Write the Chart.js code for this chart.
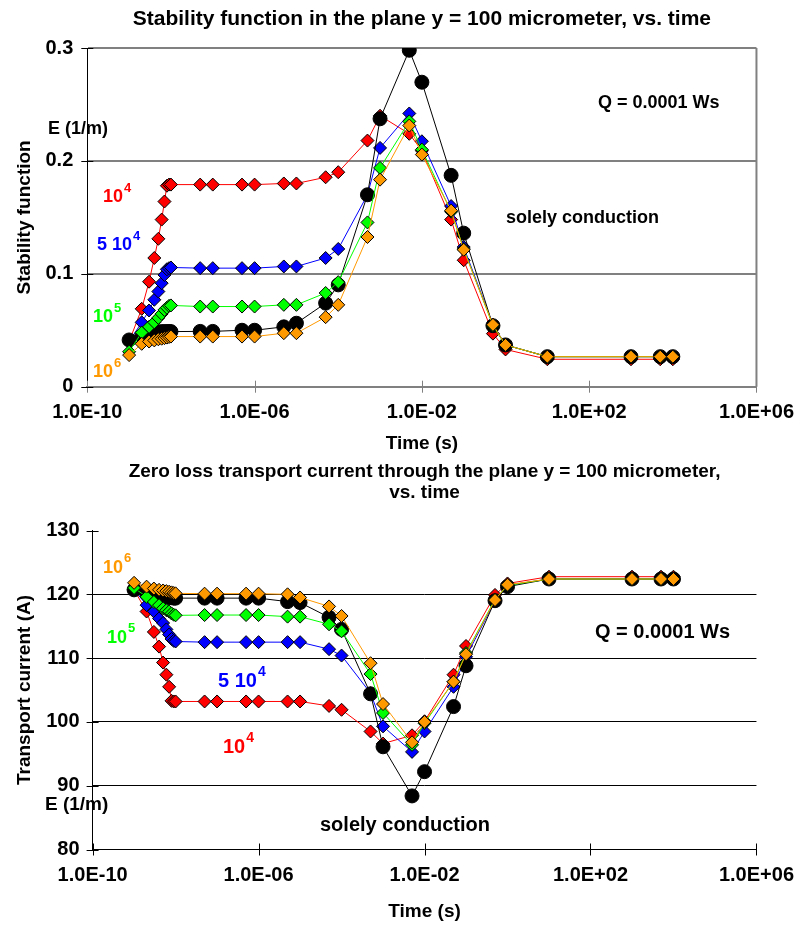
<!DOCTYPE html>
<html><head><meta charset="utf-8">
<script src="https://cdn.jsdelivr.net/npm/chart.js@4/dist/chart.umd.min.js"></script>
<style>
html,body{margin:0;padding:0;background:#fff;}
#wrap{position:relative;width:808px;height:927px;overflow:hidden;}
canvas{position:absolute;left:0;}
</style></head><body>
<div id="wrap">
<canvas id="c1" width="808" height="455" style="top:0;width:808px;height:455px"></canvas>
<canvas id="c2" width="808" height="472" style="top:455px;width:808px;height:472px"></canvas>
</div>
<script>
// ---------- data ----------
const times = [1e-9,2e-9,3e-9,4e-9,5e-9,6e-9,7e-9,8e-9,9e-9,1e-8,5e-8,1e-7,5e-7,1e-6,5e-6,1e-5,5e-5,1e-4,5e-4,1e-3,5e-3,1e-2,5e-2,1e-1,0.5,1,10,1000,5000,10000];
const xTickValues = [1e-10,1e-6,1e-2,1e2,1e6];
const xTickLabels = ["1.0E-10","1.0E-06","1.0E-02","1.0E+02","1.0E+06"];
const stabTickValues = [0,0.1,0.2,0.3];
const stabTickLabels = ["0","0.1","0.2","0.3"];
const currTickValues = [80,90,100,110,120,130];
const currTickLabels = ["80","90","100","110","120","130"];

// Stability function
const stabE1e4  = [0.040,0.069,0.093,0.114,0.131,0.148,0.164,0.178,0.179,0.179,0.179,0.179,0.179,0.179,0.180,0.180,0.1855,0.190,0.218,0.240,0.224,0.209,0.148,0.112,0.047,0.033,0.0243,0.0243,0.0243,0.0243];
const stabE5e4  = [0.040,0.057,0.0675,0.077,0.0843,0.0917,0.099,0.104,0.105,0.1056,0.105,0.105,0.105,0.105,0.1065,0.1065,0.114,0.122,0.170,0.2115,0.242,0.2174,0.160,0.1237,0.055,0.037,0.0266,0.0266,0.0266,0.0266];
const stabE1e5  = [0.031,0.048,0.053,0.057,0.061,0.0645,0.068,0.070,0.0716,0.072,0.071,0.071,0.071,0.071,0.0725,0.0725,0.083,0.0926,0.1455,0.1938,0.235,0.210,0.155,0.122,0.054,0.037,0.0266,0.0266,0.0266,0.0266];
const stabE1e6  = [0.028,0.038,0.040,0.041,0.042,0.0425,0.043,0.0435,0.044,0.0444,0.0444,0.0444,0.0444,0.0444,0.0474,0.0474,0.0616,0.0725,0.1326,0.1834,0.2313,0.2056,0.156,0.1213,0.0548,0.037,0.0266,0.0266,0.0266,0.0266];
const stabCond  = [0.0414,0.045,0.047,0.048,0.0485,0.0488,0.0488,0.0488,0.0488,0.0488,0.049,0.049,0.050,0.050,0.053,0.0562,0.074,0.0902,0.170,0.2373,0.298,0.2697,0.1872,0.136,0.054,0.037,0.0266,0.0266,0.0266,0.0266];

// Zero loss transport current (A)
const currE1e4  = [120.7,117.3,114.1,111.8,109.3,107.4,105.5,103.3,103.2,103.2,103.2,103.2,103.2,103.2,103.2,103.2,102.5,101.9,98.5,96.6,97.9,100.1,107.4,111.9,119.9,121.7,122.76,122.76,122.76,122.76];
const currE5e4  = [120.7,118.3,117.3,116.2,115.5,114.5,113.7,113.0,112.7,112.6,112.5,112.5,112.5,112.5,112.5,112.5,111.4,110.4,104.5,99.3,95.3,98.5,105.5,110.2,119.0,121.4,122.4,122.4,122.4,122.4];
const currE1e5  = [121.0,119.6,118.8,118.3,117.8,117.5,117.3,117.0,116.8,116.7,116.75,116.75,116.75,116.75,116.5,116.5,115.3,114.2,107.5,101.4,96.4,99.8,106.3,110.8,119.2,121.4,122.4,122.4,122.4,122.4];
const currE1e6  = [121.8,121.2,120.9,120.7,120.6,120.5,120.4,120.3,120.2,120.15,120.1,120.1,120.1,120.1,120.0,119.5,118.1,116.6,109.2,102.8,96.8,100.0,106.3,110.6,119.1,121.5,122.4,122.4,122.4,122.4];
const currCond  = [120.7,120.2,120.0,119.8,119.7,119.6,119.5,119.5,119.4,119.4,119.4,119.4,119.4,119.4,118.85,118.7,116.4,114.5,104.4,96.1,88.4,92.2,102.4,108.8,119.0,121.2,122.4,122.4,122.4,122.4];

// ---------- helpers ----------
const FONT = '"Liberation Sans", Arial, Helvetica, sans-serif';
const pts = arr => times.map((t,i)=>({x:t,y:arr[i]}));
function diamondSet(label, arr, color, order){
  return {label, data: pts(arr), showLine:true, borderColor:color, borderWidth:1,
    pointStyle:'rectRot', pointRadius:6.5, pointBackgroundColor:color, pointBorderColor:'#000',
    pointBorderWidth:1, order};
}
function circleSet(label, arr, order){
  return {label, data: pts(arr), showLine:true, borderColor:'#000', borderWidth:1,
    pointStyle:'circle', pointRadius:7, pointBackgroundColor:'#000', pointBorderColor:'#000',
    pointBorderWidth:1, order};
}

const textPlugin = {
  id:'texts',
  afterDraw(chart, args, opts){
    const ctx = chart.ctx, off = opts.offsetY||0, ca = chart.chartArea;
    (opts.items||[]).forEach(it=>{
      ctx.save();
      ctx.fillStyle = it.color||'#000';
      ctx.font = `bold ${it.size}px ${FONT}`;
      if (it.rotate){
        const cy = it.y==='center' ? (ca.top+ca.bottom)/2 : it.y-off;
        ctx.translate(it.x, cy); ctx.rotate(-Math.PI/2);
        ctx.textAlign='center'; ctx.textBaseline='middle';
        ctx.fillText(it.text,0,0);
      } else {
        ctx.textBaseline='alphabetic';
        let x = it.x==='center' ? (ca.left+ca.right)/2 : it.x;
        ctx.textAlign = it.align||'left';
        ctx.fillText(it.text, x, it.y-off);
        if (it.sup){
          const w = ctx.measureText(it.text).width;
          ctx.font = `bold ${it.supSize||13}px ${FONT}`;
          ctx.fillText(it.sup, x+w+1, it.y-off-it.supRaise);
        }
      }
      ctx.restore();
    });
  }
};

const framePlugin = {
  id:'frame',
  beforeDatasetsDraw(chart, args, opts){
    const ctx = chart.ctx, ca = chart.chartArea;
    const xs = chart.scales.x, ys = chart.scales.y;
    ctx.save();
    if (opts.rightBorder){
      ctx.strokeStyle = opts.rightBorder; ctx.lineWidth = 2;
      ctx.beginPath(); ctx.moveTo(ca.right, ca.top); ctx.lineTo(ca.right, ca.bottom); ctx.stroke();
    }
    ctx.lineWidth = 1;
    ctx.strokeStyle = opts.xTickColor;
    xTickValues.forEach(v=>{
      const px = Math.round(xs.getPixelForValue(v))+0.5;
      ctx.beginPath(); ctx.moveTo(px, ca.bottom-6); ctx.lineTo(px, ca.bottom+6); ctx.stroke();
    });
    ctx.strokeStyle = opts.yTickColor;
    ys.ticks.forEach(t=>{
      const py = Math.round(ys.getPixelForValue(t.value))+0.5;
      ctx.beginPath(); ctx.moveTo(ca.left-6, py); ctx.lineTo(ca.left+6, py); ctx.stroke();
    });
    ctx.restore();
  }
};

function xAxis(height){
  return {type:'logarithmic', min:1e-10, max:1e6,
    afterBuildTicks: s => { s.ticks = xTickValues.map(v=>({value:v})); },
    afterFit: s => { s.height = height; },
    grid:{display:false, drawTicks:false},
    ticks:{autoSkip:false, maxRotation:0, padding:14, color:'#000',
      font:{family:FONT, size:20, weight:'bold'},
      callback:(v,i)=>xTickLabels[i]}
  };
}

// ---------- top chart ----------
new Chart(document.getElementById('c1'), {
  type:'scatter',
  data:{datasets:[
    diamondSet('10^4', stabE1e4, '#FF0000', 5),
    diamondSet('5 10^4', stabE5e4, '#0000FF', 4),
    circleSet('solely conduction', stabCond, 3),
    diamondSet('10^5', stabE1e5, '#00FF00', 2),
    diamondSet('10^6', stabE1e6, '#FF9900', 1)
  ]},
  options:{
    responsive:false, animation:false, events:[],
    layout:{padding:{left:0, top:48, right:50.7, bottom:0}},
    scales:{
      x: Object.assign(xAxis(68.3), {border:{display:true, color:'#808080', width:2}}),
      y:{min:0, max:0.3,
        afterFit: s => { s.width = 87.3; },
        afterBuildTicks: s => { s.ticks = stabTickValues.map(v=>({value:v})); },
        border:{display:true, color:'#000', width:1},
        grid:{color:'#808080', lineWidth:2, drawTicks:false},
        ticks:{padding:14, color:'#000', font:{family:FONT, size:20, weight:'bold'},
          callback:(v,i)=>stabTickLabels[i]}
      }
    },
    plugins:{
      legend:{display:false}, tooltip:{enabled:false}, title:{display:false},
      frame:{rightBorder:'#808080', xTickColor:'#808080', yTickColor:'#000'},
      texts:{offsetY:0, items:[
        {text:'Stability function in the plane y = 100 micrometer, vs. time', x:'center', y:25, size:21, align:'center'},
        {text:'Stability function', x:25, y:'center', size:19, rotate:true},
        {text:'Time (s)', x:'center', y:449, size:19, align:'center'},
        {text:'Q = 0.0001 Ws', x:598, y:108, size:18},
        {text:'E (1/m)', x:48, y:134, size:18},
        {text:'10', sup:'4', x:103, y:202, supRaise:10, size:18, color:'#FF0000'},
        {text:'5 10', sup:'4', x:97, y:250, supRaise:10, size:18, color:'#0000FF'},
        {text:'10', sup:'5', x:93, y:322, supRaise:10, size:18, color:'#00FF00'},
        {text:'10', sup:'6', x:93, y:377, supRaise:10, size:18, color:'#FF9900'},
        {text:'solely conduction', x:506, y:223, size:18}
      ]}
    }
  },
  plugins:[framePlugin, textPlugin]
});

// ---------- bottom chart ----------
new Chart(document.getElementById('c2'), {
  type:'scatter',
  data:{datasets:[
    diamondSet('10^4', currE1e4, '#FF0000', 5),
    diamondSet('5 10^4', currE5e4, '#0000FF', 4),
    circleSet('solely conduction', currCond, 3),
    diamondSet('10^5', currE1e5, '#00FF00', 2),
    diamondSet('10^6', currE1e6, '#FF9900', 1)
  ]},
  options:{
    responsive:false, animation:false, events:[],
    layout:{padding:{left:0, top:75.5, right:49.2, bottom:0}},
    scales:{
      x: Object.assign(xAxis(77.5), {border:{display:true, color:'#000', width:1}}),
      y:{min:80, max:130,
        afterFit: s => { s.width = 92.6; },
        afterBuildTicks: s => { s.ticks = currTickValues.map(v=>({value:v})); },
        border:{display:true, color:'#000', width:1},
        grid:{color:c => (c.tick && (c.tick.value===130 || c.tick.value===80)) ? 'rgba(0,0,0,0)' : '#000', lineWidth:1, drawTicks:false},
        ticks:{padding:13, color:'#000', font:{family:FONT, size:20, weight:'bold'},
          callback:(v,i)=>currTickLabels[i]}
      }
    },
    plugins:{
      legend:{display:false}, tooltip:{enabled:false}, title:{display:false},
      frame:{xTickColor:'#000', yTickColor:'#000'},
      texts:{offsetY:455, items:[
        {text:'Zero loss transport current through the plane y = 100 micrometer,', x:'center', y:477, size:19, align:'center'},
        {text:'vs. time', x:'center', y:498, size:19, align:'center'},
        {text:'Transport current (A)', x:25, y:'center', size:19, rotate:true},
        {text:'Time (s)', x:'center', y:917, size:19, align:'center'},
        {text:'10', sup:'6', x:103, y:573, supRaise:11, size:18, color:'#FF9900'},
        {text:'10', sup:'5', x:107, y:643, supRaise:11, size:18, color:'#00FF00'},
        {text:'5 10', sup:'4', x:218, y:687, supRaise:11, size:20, supSize:14, color:'#0000FF'},
        {text:'10', sup:'4', x:223, y:753, supRaise:11, size:20, supSize:14, color:'#FF0000'},
        {text:'E (1/m)', x:45, y:810, size:19},
        {text:'solely conduction', x:320, y:831, size:20},
        {text:'Q = 0.0001 Ws', x:595, y:638, size:20}
      ]}
    }
  },
  plugins:[framePlugin, textPlugin]
});
</script>
</body></html>
